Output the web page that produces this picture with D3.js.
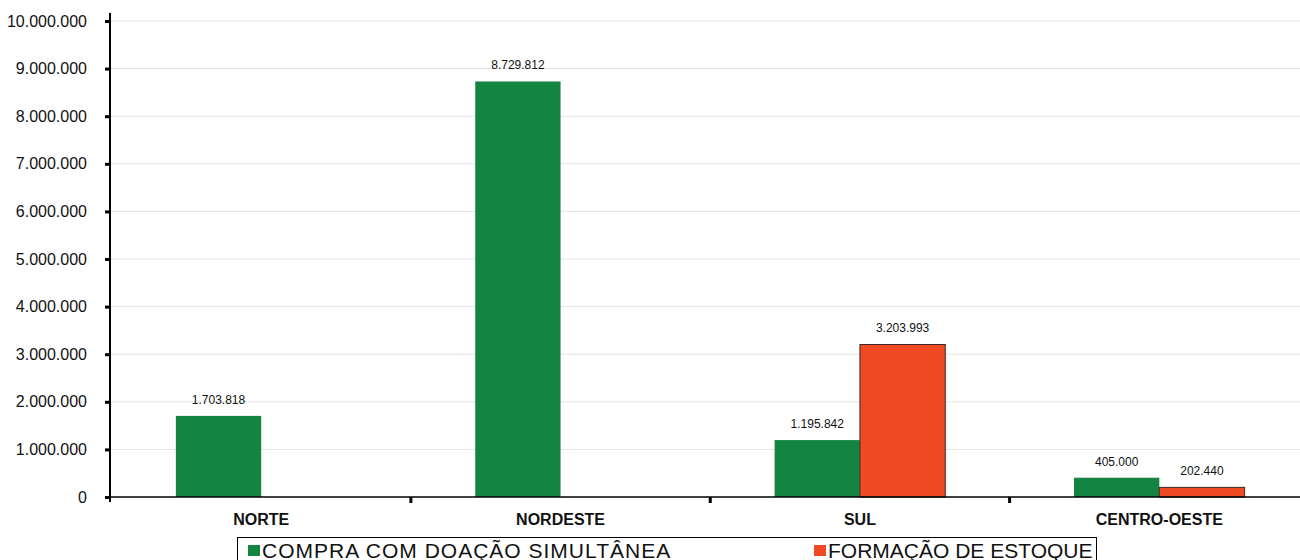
<!DOCTYPE html>
<html>
<head>
<meta charset="utf-8">
<script src="https://cdn.jsdelivr.net/npm/d3@7"></script>
<style>
  html, body { margin: 0; padding: 0; background: #fff; }
  svg { display: block; font-family: "Liberation Sans", Arial, sans-serif; }
</style>
</head>
<body>
<svg id="chart" width="1300" height="560"></svg>
<script>
// Regions and amounts per modality
const regions = ["NORTE", "NORDESTE", "SUL", "CENTRO-OESTE"];
const compraDoacao = [1703818, 8729812, 1195842, 405000];
const formacaoEstoque = [null, null, 3203993, 202440];
const seriesNames = ["COMPRA COM DOAÇÃO SIMULTÂNEA", "FORMAÇÃO DE ESTOQUE"];
const seriesColors = ["#138442", "#ef4a24"];
const yTicks = [0, 1000000, 2000000, 3000000, 4000000, 5000000, 6000000, 7000000, 8000000, 9000000, 10000000];

const ptBR = d3.formatLocale({ decimal: ",", thousands: ".", grouping: [3], currency: ["R$", ""] });
const fmt = ptBR.format(",d");

const svg = d3.select("#chart");
const plotLeft = 110, plotRight = 1308, plotTop = 21, plotBottom = 497;

const x = d3.scaleBand().domain(regions).range([plotLeft + 1.5, plotRight + 1]).paddingInner(0).paddingOuter(0);
const y = d3.scaleLinear().domain([0, 10000000]).range([plotBottom, plotTop]);
const barW = x.bandwidth() * 0.285;

// grid lines
svg.append("g")
  .selectAll("line")
  .data(yTicks.slice(1))
  .join("line")
  .attr("x1", plotLeft + 1).attr("x2", plotRight)
  .attr("y1", d => y(d)).attr("y2", d => y(d))
  .attr("stroke", "#e3e3e3").attr("stroke-width", 1);

// bars
const series = [compraDoacao, formacaoEstoque];
series.forEach((vals, si) => {
  const data = regions.map((r, i) => ({ r, v: vals[i] })).filter(d => d.v != null);
  const g = svg.append("g");
  g.selectAll("rect")
    .data(data)
    .join("rect")
    .attr("x", d => x(d.r) + x.bandwidth() / 2 - (si === 0 ? barW : 0))
    .attr("y", d => y(d.v))
    .attr("width", barW)
    .attr("height", d => y(0) - y(d.v))
    .attr("fill", seriesColors[si])
    .attr("stroke", si === 0 ? "none" : "#3a2a25")
    .attr("stroke-width", si === 0 ? 0 : 1);
  g.selectAll("text")
    .data(data)
    .join("text")
    .attr("x", d => x(d.r) + x.bandwidth() / 2 + (si === 0 ? -barW / 2 : barW / 2))
    .attr("y", d => y(d.v) - 12)
    .attr("text-anchor", "middle")
    .attr("font-size", 12)
    .attr("fill", "#111")
    .text(d => fmt(d.v));
});

// y axis
const yAxis = d3.axisLeft(y).tickValues(yTicks).tickFormat(fmt).tickSize(5).tickPadding(18);
const gy = svg.append("g").attr("transform", `translate(${plotLeft},0)`).call(yAxis);
gy.select(".domain").remove();
gy.selectAll(".tick line").attr("stroke", "#000").attr("stroke-width", 3);
gy.selectAll(".tick text").attr("font-size", 16).attr("fill", "#111")
  .attr("font-family", "'Liberation Sans', Arial, sans-serif");
svg.append("line").attr("x1", plotLeft).attr("x2", plotLeft).attr("y1", 13).attr("y2", plotBottom + 5)
  .attr("stroke", "#000").attr("stroke-width", 2);

// x axis
svg.append("line").attr("x1", plotLeft).attr("x2", plotRight).attr("y1", plotBottom).attr("y2", plotBottom)
  .attr("stroke", "#000").attr("stroke-width", 1.5);
svg.append("g").selectAll("line")
  .data(regions.slice(1))
  .join("line")
  .attr("x1", d => x(d)).attr("x2", d => x(d))
  .attr("y1", plotBottom).attr("y2", plotBottom + 6)
  .attr("stroke", "#000").attr("stroke-width", 3);
svg.append("g").selectAll("text")
  .data(regions)
  .join("text")
  .attr("x", d => x(d) + x.bandwidth() / 2)
  .attr("y", 525)
  .attr("text-anchor", "middle")
  .attr("font-size", 16)
  .attr("font-weight", "bold")
  .attr("fill", "#111")
  .text(d => d);

// legend
const legend = svg.append("g");
legend.append("rect").attr("x", 237.5).attr("y", 537.5).attr("width", 859).attr("height", 40)
  .attr("fill", "#fff").attr("stroke", "#000").attr("stroke-width", 1);
const legX = [248, 814];
const legSpacing = [1, 0];
seriesNames.forEach((name, i) => {
  legend.append("rect").attr("x", legX[i]).attr("y", 545).attr("width", 12).attr("height", 11)
    .attr("fill", seriesColors[i]);
  legend.append("text").attr("x", legX[i] + 14).attr("y", 558)
    .attr("font-size", 21).attr("letter-spacing", legSpacing[i])
    .attr("fill", "#111").text(name);
});
</script>
</body>
</html>
